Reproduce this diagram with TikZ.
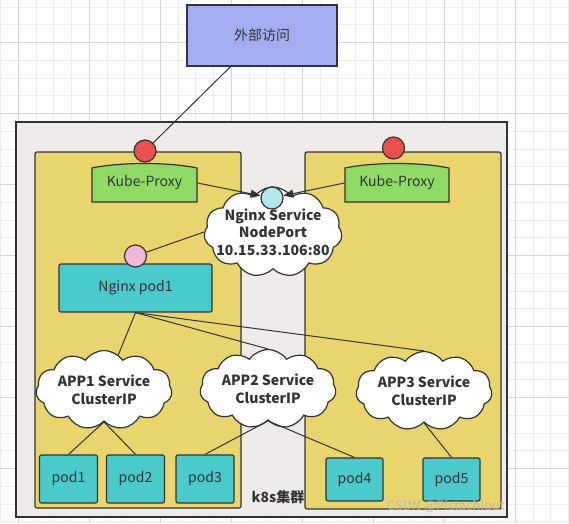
\documentclass[tikz,border=0pt]{standalone}
\usepackage{fontspec}
\setmainfont{Noto Sans CJK SC}
\usepackage{tikz}
\usetikzlibrary{shapes.symbols,arrows.meta,positioning}

\definecolor{edgecol}{HTML}{333333}
\definecolor{extcol}{HTML}{A3ADF2}
\definecolor{clustercol}{HTML}{EFEBEA}
\definecolor{hostcol}{HTML}{E8D56E}
\definecolor{portcol}{HTML}{E85050}
\definecolor{proxycol}{HTML}{90DA66}
\definecolor{svcportcol}{HTML}{B3E8EA}
\definecolor{podportcol}{HTML}{F2B8D9}
\definecolor{podcol}{HTML}{4ACACB}
\definecolor{gridcol}{HTML}{EDEDED}

\begin{document}
\begin{tikzpicture}[line width=1.2pt,
  font=\fontsize{14}{16}\selectfont,
  boxed/.style={draw=edgecol,rectangle,inner sep=0pt,text=edgecol},
  pod/.style={boxed,fill=podcol,rounded corners=2pt,minimum width=58pt,minimum height=48pt},
  port/.style={draw=edgecol,circle,minimum size=22pt,inner sep=0pt},
  svc/.style={cloud,cloud puffs=11,cloud puff arc=110,aspect=1.7,draw=edgecol,fill=white,
    inner sep=-7pt,minimum width=136pt,minimum height=78pt,align=center,
    font=\fontsize{14}{18}\selectfont\bfseries,text=edgecol},
  link/.style={draw=edgecol,line width=1pt},
  flow/.style={link,-{Triangle[length=10pt,width=8pt]}}]

  \begin{scope}[x=1pt,y=-1pt]
  \useasboundingbox (0,0) rectangle (569,523);

  % background grid
  \foreach \i in {0,...,32} \draw[gridcol,line width=0.6pt] ({0.5+17.75*\i},0) -- ({0.5+17.75*\i},523);
  \foreach \i in {0,...,29} \draw[gridcol,line width=0.6pt] (0,{7+17.75*\i}) -- (569,{7+17.75*\i});
  \foreach \i in {1,5,...,29} \draw[gridcol!90!black,line width=0.8pt] ({0.5+17.75*\i},0) -- ({0.5+17.75*\i},523);
  \foreach \i in {2,6,...,26} \draw[gridcol!90!black,line width=0.8pt] (0,{7+17.75*\i}) -- (569,{7+17.75*\i});

  % cluster and hosts
  \draw[edgecol,fill=clustercol] (16,122) rectangle (507,517);
  \draw[edgecol,fill=hostcol,rounded corners=2pt] (35,152) rectangle (241,508);
  \draw[edgecol,fill=hostcol,rounded corners=2pt] (305,152) rectangle (501,509);
  \node[font=\fontsize{14}{16}\selectfont\bfseries,text=edgecol] (k8s) at (278,497) {k8s集群};

  % external access
  \node[boxed,fill=extcol,minimum width=150pt,minimum height=61pt] (ext) at (262,35.5) {外部访问};

  % kube-proxy bodies
  \path[draw=edgecol,fill=proxycol] (92,202) -- (92,168) .. controls (120,162) and (169,162) .. (197,168) -- (197,202) -- cycle;
  \path[draw=edgecol,fill=proxycol] (345,202) -- (345,168) .. controls (373,162) and (421,162) .. (449,168) -- (449,202) -- cycle;
  \node[inner sep=0pt,minimum width=105pt,minimum height=34pt,text=edgecol] (kpl) at (144.5,183) {Kube-Proxy};
  \node[inner sep=0pt,minimum width=104pt,minimum height=34pt,text=edgecol] (kpr) at (397,183) {Kube-Proxy};

  % node ports
  \node[port,fill=portcol] (portl) at (145,151) {};
  \node[port,fill=portcol] (portr) at (393.5,148) {};

  % nginx service
  \node[svc,inner sep=-12pt,minimum width=138pt,minimum height=74pt,font=\fontsize{14}{17.5}\selectfont\bfseries] (ngx) at (273,232) {Nginx Service\\NodePort\\10.15.33.106:80};
  \node[port,fill=svcportcol] (ngxport) at (272,198) {};

  % nginx pod
  \node[boxed,fill=podcol,rounded corners=2pt,minimum width=153pt,minimum height=48pt] (npod) at (135.5,288) {Nginx pod1};
  \node[port,fill=podportcol] (npodport) at (135.5,256) {};

  % app services
  \node[svc] (app1) at (104,390) {APP1 Service\\ClusterIP};
  \node[svc] (app2) at (268,389) {APP2 Service\\ClusterIP};
  \node[svc] (app3) at (424,391) {APP3 Service\\ClusterIP};

  % pods
  \node[pod] (pod1) at (68.5,479) {pod1};
  \node[pod] (pod2) at (135.5,479) {pod2};
  \node[pod] (pod3) at (205,479) {pod3};
  \node[pod,minimum width=57pt,minimum height=43pt] (pod4) at (354.5,479.5) {pod4};
  \node[pod,minimum width=57pt,minimum height=43pt] (pod5) at (451.5,479.5) {pod5};

  % links
  \path[link]
  (ext) edge (portl)
  (ngx.west) edge (npodport)
  (npod.south) edge (app1)
  (npod.south) edge (app2.north)
  (npod.south) edge (app3.north)
  (app1.south) edge (pod1.north)
  (app1.south) edge (pod2.north)
  (app2.south) edge (pod3.north)
  (app2.south) edge (pod4.north)
  (app3.south) edge (pod5.north)
  ;
  \draw[flow] (kpl.east) -- (ngxport);
  \draw[flow] (kpr.west) -- (ngxport);

  \node[text=gray!55,font=\fontsize{13}{15}\selectfont] (mark) at (446,506) {CSDN @Pistachiout};
  \end{scope}
\end{tikzpicture}
\end{document}
